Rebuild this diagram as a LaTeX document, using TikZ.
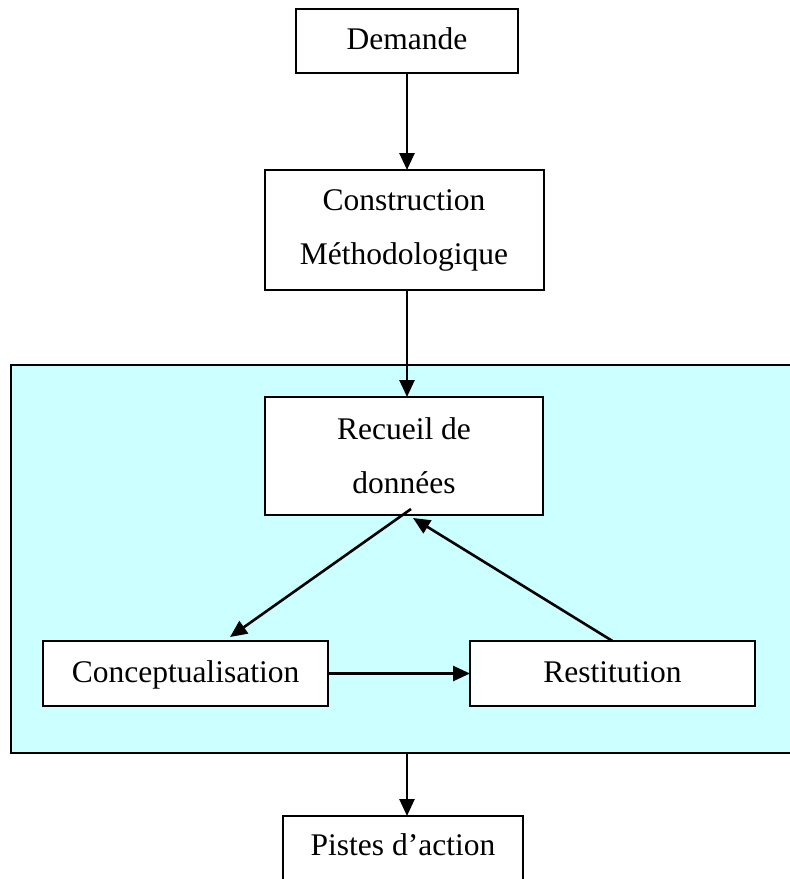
\documentclass[tikz,border=0pt]{standalone}
\usepackage{fontspec}
\setmainfont{Liberation Serif}
\usetikzlibrary{arrows.meta,calc}
\definecolor{panelcyan}{HTML}{CCFFFF}
\begin{document}
\begin{tikzpicture}[x=1pt,y=-1pt,
  box/.style={draw=black,line width=2pt,fill=white,inner sep=0pt,outer sep=0pt,
    align=center,font=\fontsize{31.5}{54}\selectfont},
  oneline/.style={box,text height=23pt,text depth=6pt},
  link/.style={line width=2.6pt,-{Triangle[length=17pt,width=15pt]}}]
\useasboundingbox (0,0) rectangle (790,879);
\clip (0,0) rectangle (790,879);
\node (panel) [draw=black,line width=2pt,fill=panelcyan,inner sep=0pt,outer sep=0pt,
  minimum width=789,minimum height=388] at (405.5,559) {};
\node (dem) [oneline,minimum width=222,minimum height=64] at (407,41) {Demande};
\node (cons) [box,minimum width=279,minimum height=120] at (404,230) {Construction\\Méthodologique};
\node (rec) [box,minimum width=278,minimum height=118] at (404,456) {Recueil de\\données};
\node (conc) [oneline,minimum width=285,minimum height=65] at (185.5,673.5) {Conceptualisation};
\node (rest) [oneline,minimum width=285,minimum height=65] at (612.5,673.5) {Restitution};
\node (pist) [box,anchor=north,minimum width=240,text height=22pt,text depth=38pt,inner ysep=17pt]
  at (403,816) {Pistes d’action};
\coordinate (recout) at ($(rec.south)+(7,-6)$);
\coordinate (recin) at ($(rec.south)+(9,3)$);
\coordinate (concin) at ($(conc.north)+(44.5,-4)$);
\draw[link] (dem.south) -- (dem.south |- cons.north);
\draw[link] (dem.south |- cons.south) -- (dem.south |- rec.north);
\draw[link] (recout) -- (concin);
\draw[link] (rest.north) -- (recin);
\draw[link] (conc.east) -- (rest.west);
\draw[link] (dem.south |- panel.south) -- (dem.south |- pist.north);
\end{tikzpicture}
\end{document}
